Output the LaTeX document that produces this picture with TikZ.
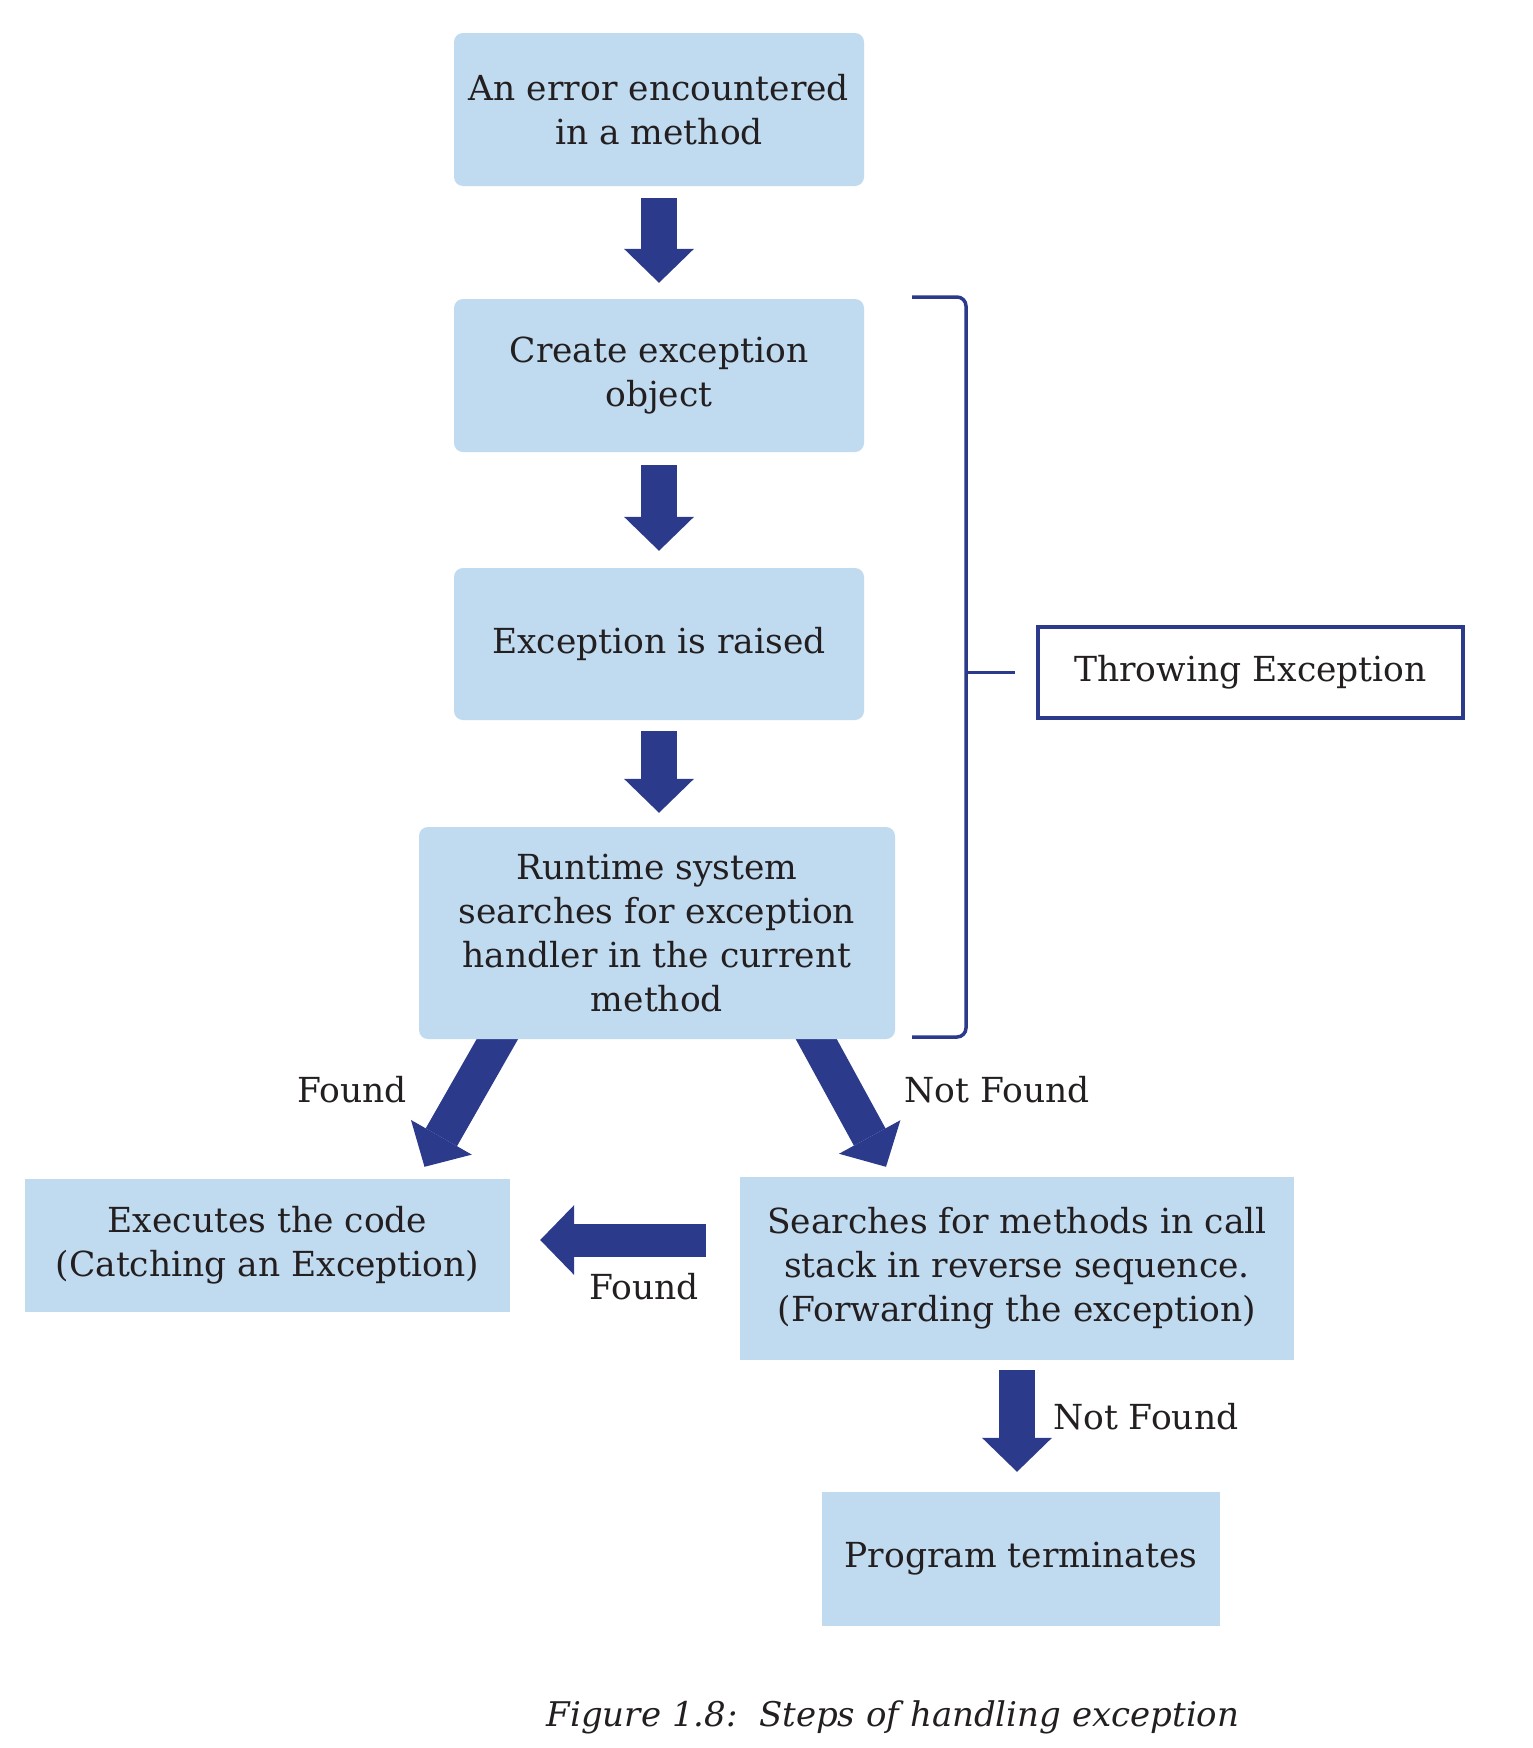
\documentclass[tikz,border=0pt]{standalone}
\usepackage{fontspec}
\setmainfont{DejaVu Serif}
\usetikzlibrary{arrows.meta,calc,backgrounds}
\definecolor{boxfill}{RGB}{192,218,240}
\definecolor{arrowblue}{RGB}{44,58,140}
\definecolor{txt}{RGB}{35,31,32}
\newcommand\bodyfont{\fontsize{34.5}{44}\selectfont}
\newcommand\capfont{\fontsize{34}{44}\selectfont\itshape}
\tikzset{
 box/.style={fill=boxfill, inner sep=0pt, align=center, text=txt, font=\bodyfont},
 rbox/.style={box, rounded corners=9pt},
 bigarrow/.style={draw=arrowblue, line width=36pt, -{Triangle[width=70pt,length=34pt,line width=0pt,fill=arrowblue]}},
 lbl/.style={text=txt, font=\bodyfont, inner sep=0pt},
 bracketline/.style={draw=arrowblue, line width=3.5pt},
}
\begin{document}
\begin{tikzpicture}[x=1pt,y=-1pt]
\useasboundingbox (0,0) rectangle (1532,1748);
% boxes
\node[rbox, minimum width=410pt, minimum height=153pt] (b1) at (659,109.5) {An error encountered\\in a method};
\node[rbox, minimum width=410pt, minimum height=153pt] (b2) at (659,375.5) {Create exception\\object};
\node[rbox, minimum width=410pt, minimum height=152pt] (b3) at (659,644) {Exception is raised};
\node[rbox, minimum width=476pt, minimum height=212pt] (b4) at (657,933) {Runtime system\\searches for exception\\handler in the current\\method};
\node[box, minimum width=485pt, minimum height=133pt] (b5) at (267.5,1245.5) {Executes the code\\(Catching an Exception)};
\node[box, minimum width=554pt, minimum height=183pt] (b6) at (1017,1268.5) {Searches for methods in call\\stack in reverse sequence.\\(Forwarding the exception)};
\node[box, minimum width=398pt, minimum height=134pt] (b7) at (1021,1559) {Program terminates};
\node[draw=arrowblue, line width=3.5pt, fill=white, inner sep=0pt, minimum width=425pt, minimum height=91pt, text=txt, font=\bodyfont] (te) at (1250.5,672.5) {Throwing Exception};
% arrows
\begin{scope}[on background layer]
\draw[bigarrow, shorten <=12pt, shorten >=16pt] (b1.south) -- (b2.north);
\draw[bigarrow, shorten <=13pt, shorten >=17pt] (b2.south) -- (b3.north);
\draw[bigarrow, shorten <=11pt, shorten >=14pt] (b3.south) -- (b3.south |- b4.north);
\draw[bigarrow] ($(b4.south)+(-150,-17)$) -- ($(b5.north)+(157,-12)$);
\draw[bigarrow] ($(b4.south)+(150,-17)$) -- ($(b6.north)+(-131,-10)$);
\draw[bigarrow, line width=33pt] ($(b6.west)+(-34,-28.5)$) -- ($(b5.east)+(30,-5.5)$);
\draw[bigarrow, shorten <=10pt, shorten >=20pt] (b6.south) -- (b6.south |- b7.north);
\end{scope}
% bracket
\draw[bracketline, rounded corners=9pt] (912,297) -- (966,297) -- (966,1037) -- (912,1037);
\coordinate (bm) at (966,672.5);
\draw[bracketline, shorten >=21pt] (bm) -- (te.west);
% labels
\node[lbl] (f1) at (352,1090) {Found};
\node[lbl] (nf1) at (997,1090) {Not Found};
\node[lbl] (f2) at (644,1287) {Found};
\node[lbl, anchor=west] (nf2) at (1053,1417) {Not Found};
\node[lbl, font=\capfont] (cap) at (893,1717) {Figure 1.8:\ \ Steps of handling exception};
\end{tikzpicture}
\end{document}
